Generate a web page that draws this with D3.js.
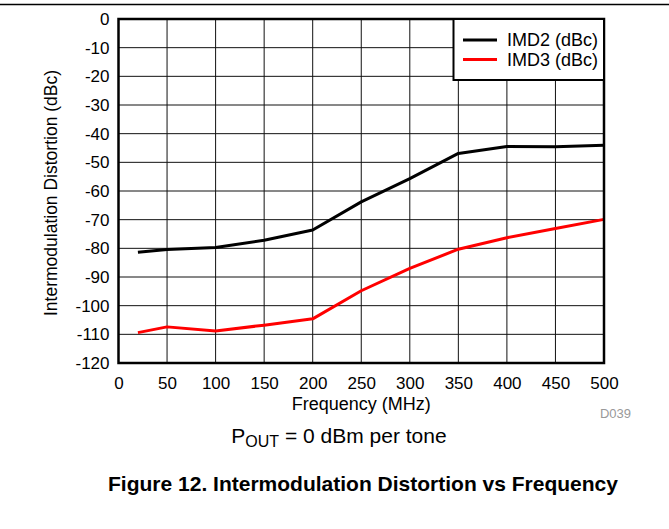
<!DOCTYPE html>
<html><head><meta charset="utf-8">
<script src="https://cdn.jsdelivr.net/npm/d3@7"></script>
<style>body{margin:0;background:#fff}svg{display:block;font-family:"Liberation Sans",Arial,sans-serif}</style>
</head><body><svg id="c" width="669" height="529"></svg>
<script>
const freqs = [20, 50, 100, 150, 200, 250, 300, 350, 400, 450, 500];
const imd2 = [-81.4, -80.4, -79.7, -77.2, -73.6, -63.8, -55.7, -46.9, -44.5, -44.6, -44.0];
const imd3 = [-109.4, -107.4, -108.8, -106.8, -104.6, -94.8, -87.0, -80.3, -76.3, -73.1, -69.9];
const xTicks = [0, 50, 100, 150, 200, 250, 300, 350, 400, 450, 500];
const yTicks = [0, -10, -20, -30, -40, -50, -60, -70, -80, -90, -100, -110, -120];
const seriesNames = ["IMD2 (dBc)", "IMD3 (dBc)"];
const seriesColors = ["#000000", "#ff0000"];

const svg = d3.select("#c");
const L = 118.5, R = 604, T = 19, B = 363;
const x = d3.scaleLinear().domain([0, 500]).range([L, R]);
const y = d3.scaleLinear().domain([-120, 0]).range([B, T]);

// top rule
svg.append("line").attr("x1", 0).attr("x2", 669).attr("y1", 4.5).attr("y2", 4.5)
  .attr("stroke", "#000").attr("stroke-width", 1.5);

// grid
const g = svg.append("g");
g.selectAll("line.v").data(xTicks).join("line")
  .attr("x1", d => x(d)).attr("x2", d => x(d)).attr("y1", T).attr("y2", B)
  .attr("stroke", "#111").attr("stroke-width", 1);
g.selectAll("line.h").data(yTicks).join("line")
  .attr("y1", d => y(d)).attr("y2", d => y(d)).attr("x1", L).attr("x2", R)
  .attr("stroke", "#111").attr("stroke-width", 1);

// axes labels via d3 axes
const xAxis = svg.append("g").attr("transform", `translate(0,${B})`)
  .call(d3.axisBottom(x).tickValues(xTicks).tickSize(0).tickPadding(14).tickFormat(d => String(d)));
xAxis.select(".domain").remove();
xAxis.selectAll("text").attr("font-size", 17).attr("fill", "#000").attr("font-family", "Liberation Sans, Arial, sans-serif");

const yAxis = svg.append("g").attr("transform", `translate(${L},0)`)
  .call(d3.axisLeft(y).tickValues(yTicks).tickSize(0).tickPadding(9).tickFormat(d => String(d)));
yAxis.select(".domain").remove();
yAxis.selectAll("text").attr("font-size", 17).attr("fill", "#000").attr("font-family", "Liberation Sans, Arial, sans-serif");

// lines
const line = d3.line().x((d, i) => x(freqs[i])).y(d => y(d));
[imd2, imd3].forEach((s, i) => {
  svg.append("path").datum(s).attr("d", line).attr("fill", "none")
    .attr("stroke", seriesColors[i]).attr("stroke-width", 3).attr("stroke-linejoin", "round");
});

// frame
svg.append("rect").attr("x", L).attr("y", T).attr("width", R - L).attr("height", B - T)
  .attr("fill", "none").attr("stroke", "#000").attr("stroke-width", 2.5);

// legend
const lg = svg.append("g");
lg.append("rect").attr("x", 453.5).attr("y", T).attr("width", R - 453.5).attr("height", 61)
  .attr("fill", "#fff").attr("stroke", "#000").attr("stroke-width", 2);
seriesNames.forEach((n, i) => {
  const yy = 40 + i * 19.5;
  lg.append("line").attr("x1", 463).attr("x2", 497).attr("y1", yy).attr("y2", yy)
    .attr("stroke", seriesColors[i]).attr("stroke-width", 3);
  lg.append("text").attr("x", 507).attr("y", yy + 6).attr("font-size", 18).text(n);
});

// axis titles
svg.append("text").attr("x", (L + R) / 2).attr("y", 410).attr("text-anchor", "middle")
  .attr("font-size", 18).text("Frequency (MHz)");
svg.append("text").attr("transform", `translate(57,${193}) rotate(-90)`).attr("text-anchor", "middle")
  .attr("font-size", 17.5).text("Intermodulation Distortion (dBc)");

svg.append("text").attr("x", 631).attr("y", 418).attr("text-anchor", "end")
  .attr("font-size", 13).attr("fill", "#999").text("D039");

const p = svg.append("text").attr("x", 339).attr("y", 443).attr("text-anchor", "middle").attr("font-size", 21);
p.append("tspan").text("P");
p.append("tspan").attr("font-size", 16).attr("dy", 4).text("OUT");
p.append("tspan").attr("dy", -4).text(" = 0 dBm per tone");

svg.append("text").attr("x", 363).attr("y", 491).attr("text-anchor", "middle")
  .attr("font-size", 21).attr("font-weight", "bold").text("Figure 12. Intermodulation Distortion vs Frequency");
</script></body></html>
